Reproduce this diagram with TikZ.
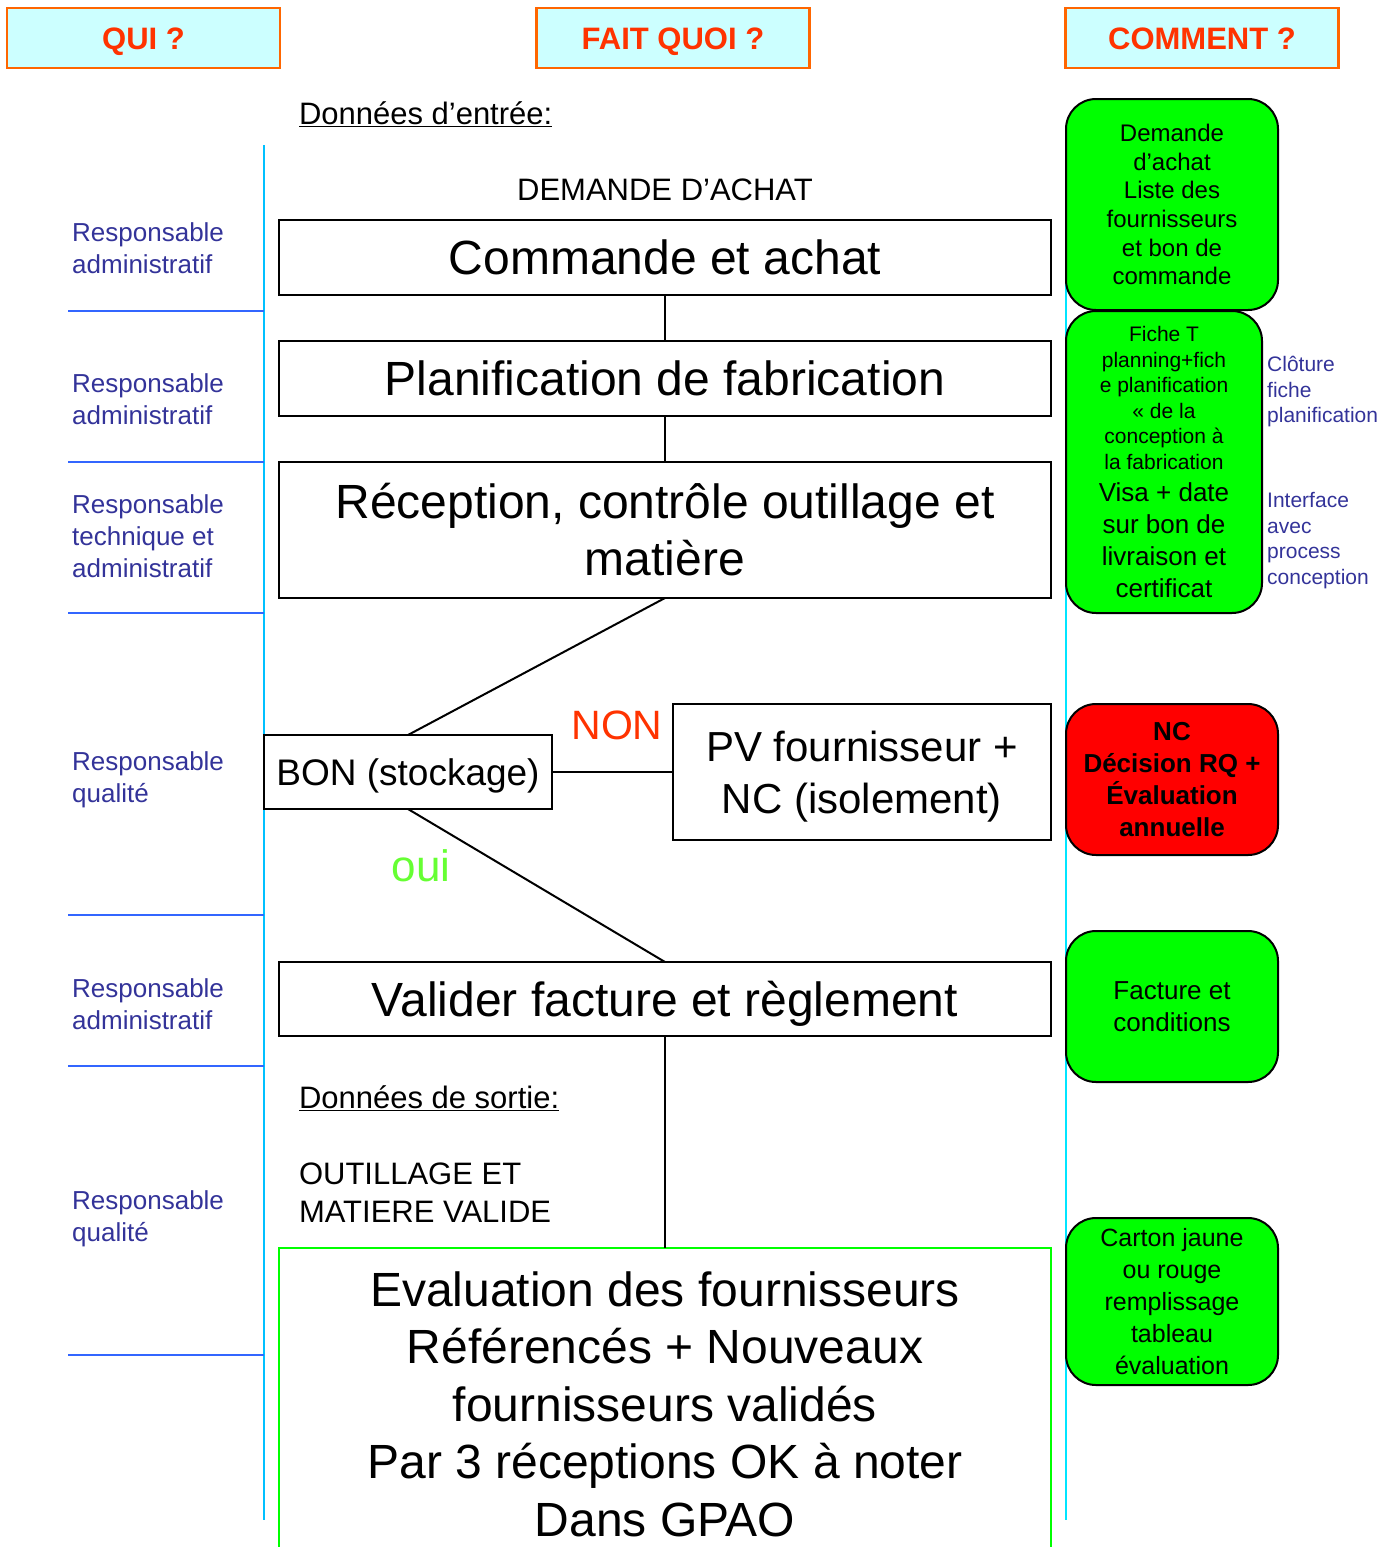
\documentclass[tikz,border=0pt]{standalone}
\usepackage{fontspec}
\setmainfont{Liberation Sans}
\definecolor{headfill}{HTML}{CCFFFF}
\definecolor{headline}{HTML}{FF6600}
\definecolor{headtext}{HTML}{FF3300}
\definecolor{whoblue}{HTML}{333399}
\definecolor{sepblue}{HTML}{3366FF}
\definecolor{laneleft}{HTML}{00C0FF}
\definecolor{laneright}{HTML}{00E5FF}
\definecolor{okgreen}{HTML}{00FF00}
\definecolor{ouigreen}{HTML}{66FF33}
\newcommand{\fs}[2]{\fontsize{#1}{#2}\selectfont}
\tikzset{
  % text block measured from the first cap line to the last baseline
  capc/.style={text height=#1, text depth=0pt},
  header/.style={draw=headline, line width=2.5pt, fill=headfill, text=headtext,
    font=\fs{31}{37}\bfseries, capc=22.2pt, minimum width=273, minimum height=60, inner sep=0, outer sep=0},
  procbox/.style={draw=black, line width=2pt, fill=white, align=center,
    font=\fs{48}{57.5}, capc=34.4pt, minimum width=772, inner sep=0, outer sep=0},
  who/.style={text=whoblue, font=\fs{26}{32}, capc=50.6pt, align=left, anchor=west, inner sep=0},
  note/.style={text=whoblue, font=\fs{21}{25.5}, align=left, anchor=west, inner sep=0},
  gbox/.style={draw=black, line width=2pt, fill=okgreen, rounded corners=30,
    align=center, inner sep=0, outer sep=0},
  link/.style={draw=black, line width=2pt},
  sep/.style={draw=sepblue, line width=2.5pt},
  plain/.style={inner sep=0, outer sep=0}
}
\begin{document}
\begin{tikzpicture}[x=1pt, y=-1pt]
\useasboundingbox (0,0) rectangle (1383,1547);

% column headers
\node[header] (qui) at (143.5,38) {QUI ?};
\node[header] (quoi) at (673,38) {FAIT QUOI ?};
\node[header] (comment) at (1202,38) {COMMENT ?};

% swim-lane borders
\draw[laneleft, line width=2pt] (264,145) -- (264,1520);
\draw[laneright, line width=2pt] (1066,145) -- (1066,1520);
\foreach \y in {311,462,613,915,1066,1355}
  \draw[sep] (68,\y) -- (264,\y);

% who
\node[who] (who1) at (72,248) {Responsable\\administratif};
\node[who] (who2) at (72,399) {Responsable\\administratif};
\node[who, capc=82.6pt] (who3) at (72,536) {Responsable\\technique et\\administratif};
\node[who] (who4) at (72,777) {Responsable\\qualité};
\node[who] (who5) at (72,1004) {Responsable\\administratif};
\node[who] (who6) at (72,1216) {Responsable\\qualité};

% inputs
\node[plain, anchor=base west, font=\fs{31}{37}] (entree) at (299,124) {\underline{Données d’entrée:}};
\node[plain, font=\fs{31}{37}] (demande) at (665,190) {DEMANDE D’ACHAT};

% process steps
\node[procbox, minimum height=75] (commande) at (665,257.5) {Commande et achat};
\node[procbox, minimum height=75] (planif) at (665,378.5) {Planification de fabrication};
\node[procbox, minimum height=136, capc=91.9pt] (reception) at (665,530) {Réception, contrôle outillage et\\matière};
\node[procbox, minimum width=288, minimum height=74, font=\fs{37}{44}, capc=26.5pt] (bon) at (408,772) {BON (stockage)};
\node[procbox, minimum width=378, minimum height=136, font=\fs{42}{52}, capc=82.1pt] (pv) at (862,772) {PV fournisseur +\\NC (isolement)};
\node[procbox, minimum height=74] (valider) at (665,999) {Valider facture et règlement};
\node[procbox, draw=okgreen, minimum height=312, capc=264.4pt] (eval) at (665,1404) {Evaluation des fournisseurs\\Référencés + Nouveaux\\fournisseurs validés\\Par 3 réceptions OK à noter\\Dans GPAO};

\node[plain, capc=29.4pt, text=headtext, font=\fs{41}{48}] (non) at (617,725) {NON};
\node[plain, text=ouigreen, font=\fs{44}{52}] (oui) at (421,866) {oui};

% outputs
\node[plain, anchor=base west, font=\fs{31}{37}] (sortie) at (299,1108) {\underline{Données de sortie:}};
\node[plain, anchor=base west, align=left, font=\fs{31}{38}] (sortietxt) at (299,1222) {OUTILLAGE ET\\MATIERE VALIDE};

% connectors
\draw[link] (commande.south) -- (planif.north);
\draw[link] (planif.south) -- (reception.north);
\draw[link] (reception.south) -- (bon.north);
\draw[link] (bon.east) -- (pv.west);
\draw[link] (bon.south) -- (valider.north);
\draw[link] (valider.south) -- (eval.north);

% how
\node[gbox, minimum width=212, minimum height=211, font=\fs{24}{28.6}, capc=160.2pt] (how1) at (1172,204.5)
  {Demande\\d’achat\\Liste des\\fournisseurs\\et bon de\\commande};
\node[gbox, minimum width=196, minimum height=302] (how2) at (1164,462) {};
\node[plain, capc=143pt, align=center, font=\fs{21}{25.6}] (how2a) at (1164,398)
  {Fiche T\\planning+fich\\e planification\\« de la\\conception à\\la fabrication};
\node[plain, capc=114.6pt, align=center, font=\fs{26}{32}] (how2b) at (1164,540)
  {Visa + date\\sur bon de\\livraison et\\certificat};
\node[gbox, fill=red, minimum width=212, minimum height=151, font=\fs{26}{32}\bfseries, capc=114.6pt] (how3) at (1172,779.5)
  {NC\\Décision RQ +\\Évaluation\\annuelle};
\node[gbox, minimum width=212, minimum height=151, font=\fs{26}{32}, capc=50.6pt] (how4) at (1172,1006.5)
  {Facture et\\conditions};
\node[gbox, minimum width=212, minimum height=167, font=\fs{25}{32}, capc=145.9pt] (how5) at (1172,1301.5)
  {Carton jaune\\ou rouge\\remplissage\\tableau\\évaluation};

\node[note, capc=66pt] (cloture) at (1267,389.5) {Clôture\\fiche\\planification};
\node[note, capc=91.5pt] (interface) at (1267,538.5) {Interface\\avec\\process\\conception};
\end{tikzpicture}
\end{document}
